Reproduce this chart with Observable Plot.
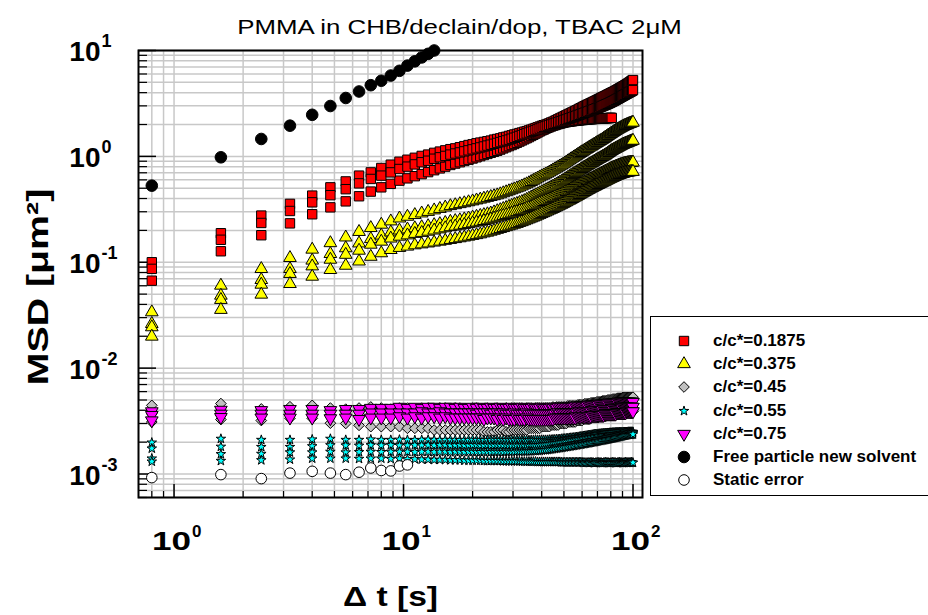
<!DOCTYPE html>
<html><head><meta charset="utf-8">
<script src="https://cdn.jsdelivr.net/npm/d3@7"></script>
<script src="https://cdn.jsdelivr.net/npm/@observablehq/plot@0.6"></script>
<style>
html,body{margin:0;padding:0;background:#fff;overflow:hidden;}
#wrap{position:relative;width:928px;height:615px;overflow:hidden;font-family:"Liberation Sans",Arial,sans-serif;}
#legend{position:absolute;left:650px;top:316px;width:300px;height:180px;border:1.5px solid #000;background:#fff;box-sizing:border-box;}
.lrow{position:absolute;left:0;height:20px;display:flex;align-items:center;font-weight:bold;font-size:17px;white-space:nowrap;}
.lrow svg{position:absolute;left:23px;top:0;}
.lrow span{position:absolute;left:62px;}
</style></head><body><div id="wrap"></div>
<script>
// lag times (s)
const lagTimes = [0.8,1.6,2.4,3.2,4,4.8,5.6,6.4,7.2,8,8.8,9.6,10.4,11.2,12,12.8,13.6,14.4,15.2,16,
 16.8,17.6,18.4,19.2,20,20.8,21.6,22.4,23.2,24,24.8,25.6,26.4,27.2,28,28.8,29.6,30.4,31.2,32,
 32.8,33.6,34.4,35.2,36,36.8,37.6,38.4,39.2,40,40.8,41.6,42.4,43.2,44,44.8,45.6,46.4,47.2,48,
 48.8,49.6,50.4,51.2,52,52.8,53.6,54.4,55.2,56,56.8,57.6,58.4,59.2,60,60.8,61.6,62.4,63.2,64,
 64.8,65.6,66.4,67.2,68,68.8,69.6,70.4,71.2,72,72.8,73.6,74.4,75.2,76,76.8,77.6,78.4,79.2,80,
 80.8,81.6,82.4,83.2,84,84.8,85.6,86.4,87.2,88,88.8,89.6,90.4,91.2,92,92.8,93.6,94.4,95.2,96,
 96.8,97.6,98.4,99.2,100];

// c/c* = 0.1875 (red squares)
const red1 = [.100,.188,.276,.356,.426,.51,.58,.658,.706,.777,.835,.89,.93,.97,1.01,1.04,1.08,1.11,1.14,1.17,
 1.19,1.22,1.25,1.28,1.30,1.33,1.35,1.37,1.39,1.41,1.44,1.46,1.48,1.51,1.53,1.56,1.58,1.61,1.63,1.66,
 1.68,1.71,1.73,1.76,1.79,1.82,1.85,1.88,1.91,1.94,1.97,1.99,2.02,2.05,2.09,2.12,2.16,2.20,2.24,2.28,
 2.32,2.36,2.40,2.44,2.48,2.52,2.56,2.60,2.64,2.68,2.72,2.76,2.81,2.85,2.89,2.94,2.98,3.02,3.06,3.10,
 3.14,3.18,3.22,3.26,3.30,3.34,3.38,3.43,3.47,3.51,3.56,3.60,3.64,3.68,3.72,3.76,3.81,3.85,3.89,3.94,
 3.98,4.02,4.06,4.10,4.15,4.20,4.25,4.30,4.35,4.40,4.45,4.50,4.55,4.60,4.65,4.70,4.76,4.81,4.87,4.93,
 4.99,5.05,5.12,5.19,5.26];
const red2 = [.0866,.163,.235,.305,.368,.43,.49,.556,.612,.658,.706,.76,.80,.84,.88,.91,.95,.98,1.01,1.04,
 1.065,1.09,1.115,1.14,1.165,1.19,1.215,1.24,1.265,1.29,1.315,1.34,1.365,1.39,1.415,1.44,1.47,1.50,1.53,1.56,
 1.59,1.62,1.65,1.68,1.71,1.74,1.77,1.80,1.835,1.87,1.90,1.92,1.95,1.98,2.00,2.03,2.05,2.08,2.10,2.13,
 2.15,2.18,2.21,2.23,2.26,2.29,2.31,2.34,2.37,2.39,2.42,2.45,2.47,2.50,2.53,2.55,2.58,2.61,2.63,2.66,
 2.69,2.71,2.74,2.77,2.79,2.82,2.85,2.87,2.90,2.93,2.96,2.99,3.02,3.05,3.08,3.11,3.14,3.17,3.20,3.24,
 3.27,3.31,3.34,3.38,3.42,3.46,3.50,3.54,3.58,3.62,3.66,3.70,3.74,3.78,3.82,3.86,3.90,3.94,3.98,4.02,
 4.06,4.10,4.14,4.18,4.23];
const red3 = [.067,.127,.18,.233,.284,.33,.376,.42,.465,.51,.55,.59,.62,.65,.68,.71,.74,.77,.80,.83,
 .855,.88,.905,.93,.955,.98,1.005,1.03,1.055,1.08,1.105,1.13,1.16,1.19,1.22,1.25,1.28,1.31,1.345,1.38,
 1.415,1.45,1.485,1.52,1.56,1.60,1.64,1.68,1.72,1.76,1.79,1.83,1.86,1.89,1.92,1.95,1.97,2.00,2.02,2.04,
 2.06,2.08,2.095,2.11,2.12,2.13,2.14,2.15,2.16,2.17,2.18,2.185,2.19,2.20,2.205,2.21,2.22,2.225,2.23,2.24,
 2.24,2.245,2.25,2.255,2.26,2.26,2.265,2.27,2.27,2.275,2.28,2.28,2.285,2.29,2.29,2.295,2.30,2.30,2.305,2.31,
 2.31];

// c/c* = 0.375 (yellow triangles)
const yel1 = [.0338,.0603,.0866,.110,.132,.152,.172,.194,.211,.227,.244,.26,.27,.28,.29,.30,.31,.32,.33,.34,
 .347,.355,.362,.37,.377,.385,.392,.40,.407,.415,.422,.43,.44,.45,.46,.47,.48,.49,.50,.51,
 .522,.535,.547,.56,.575,.59,.605,.62,.635,.65,.663,.676,.69,.706,.723,.74,.756,.773,.79,.806,
 .823,.84,.86,.88,.90,.92,.94,.96,.98,1.00,1.02,1.04,1.06,1.08,1.10,1.12,1.14,1.16,1.18,1.20,
 1.22,1.24,1.26,1.28,1.30,1.32,1.34,1.36,1.38,1.40,1.42,1.44,1.465,1.49,1.51,1.535,1.56,1.58,1.605,1.63,
 1.65,1.675,1.70,1.72,1.745,1.77,1.79,1.81,1.83,1.85,1.87,1.89,1.91,1.93,1.945,1.96,1.977,1.993,2.01,2.023,
 2.036,2.05,2.063,2.077,2.09];
const yel2 = [.0262,.0485,.0682,.0866,.104,.12,.136,.151,.166,.179,.192,.20,.205,.21,.215,.22,.225,.23,.236,.242,
 .246,.25,.255,.26,.265,.27,.275,.28,.285,.29,.297,.305,.312,.32,.327,.335,.342,.35,.357,.365,
 .372,.38,.39,.40,.41,.42,.43,.44,.45,.46,.47,.48,.49,.50,.51,.52,.532,.543,.555,.567,
 .578,.59,.603,.617,.63,.643,.657,.67,.683,.697,.71,.723,.737,.75,.763,.777,.79,.803,.817,.83,
 .843,.857,.87,.883,.897,.91,.923,.937,.95,.963,.977,.99,1.003,1.017,1.03,1.047,1.063,1.08,1.097,1.113,
 1.13,1.143,1.157,1.17,1.183,1.197,1.21,1.223,1.237,1.25,1.263,1.277,1.29,1.30,1.31,1.32,1.33,1.34,1.35,1.36,
 1.37,1.38,1.39,1.40,1.41];
const yel3 = [.0244,.0442,.0616,.0778,.0917,.106,.118,.129,.147,.157,.168,.175,.18,.186,.19,.195,.20,.205,.21,.215,
 .218,.222,.226,.23,.234,.238,.242,.246,.25,.255,.26,.265,.27,.275,.28,.285,.29,.295,.30,.305,
 .31,.315,.321,.327,.333,.34,.346,.353,.36,.366,.372,.379,.385,.392,.398,.405,.412,.418,.425,.432,
 .44,.447,.455,.462,.47,.478,.487,.495,.503,.512,.52,.528,.537,.545,.553,.562,.57,.578,.587,.595,
 .603,.612,.62,.628,.637,.645,.653,.662,.67,.678,.687,.695,.703,.712,.72,.728,.737,.745,.753,.762,
 .77,.777,.783,.79,.797,.803,.81,.817,.823,.83,.835,.84,.845,.849,.853,.857,.86,.864,.867,.869,
 .871,.873,.875,.877,.878];
const yel4 = [.0199,.0356,.0496,.0625,.0733,.0848,.093,.102,.113,.122,.131,.137,.141,.145,.148,.151,.154,.157,.16,.163,
 .166,.169,.172,.175,.178,.181,.184,.188,.191,.195,.199,.203,.207,.211,.215,.219,.223,.227,.231,.236,
 .24,.245,.25,.255,.26,.265,.27,.276,.281,.287,.292,.297,.303,.309,.314,.32,.326,.332,.338,.344,
 .35,.357,.363,.37,.377,.383,.39,.397,.404,.411,.418,.425,.433,.44,.447,.455,.462,.469,.477,.484,
 .491,.498,.505,.512,.518,.525,.532,.538,.545,.552,.558,.565,.572,.578,.585,.592,.598,.605,.612,.618,
 .625,.631,.637,.643,.649,.655,.66,.665,.67,.675,.68,.684,.688,.692,.696,.70,.703,.705,.708,.71,
 .712,.713,.714,.716,.717];

// c/c* = 0.45 (grey diamonds)
const grey1 = [.00445,.00463,.00412,.00432,.00445,.0042,.0041,.0042,.0043,.0042,.0041,.0042,.0042,.0041,.0042,.0042,.0041,.0042,.0042,.0041,
 .0042,.0042,.0041,.0041,.0042,.0042,.0041,.0041,.0042,.0041,.0041,.0042,.0041,.0041,.0042,.0041,.0042,.0042,.0041,.0042,
 .0042,.0041,.0042,.0042,.0042,.0041,.0042,.0042,.0042,.0042,.0042,.0042,.0042,.0042,.0042,.0043,.0042,.0043,.0043,.0043,
 .0043,.0043,.0043,.0043,.0044,.0044,.0044,.0044,.0044,.0044,.0044,.0045,.0045,.0045,.0045,.0045,.0046,.0046,.0046,.0046,
 .0046,.0047,.0047,.0047,.0047,.0047,.0048,.0048,.0048,.0048,.0048,.0049,.0049,.0049,.0049,.0049,.0050,.0050,.0050,.0050,
 .0050,.0051,.0051,.0051,.0051,.0051,.0052,.0052,.0052,.0052,.0052,.0052,.0053,.0053,.0053,.0053,.0053,.0053,.0053,.0053,
 .0053,.0053,.0053,.0053,.00532];
const grey2 = [.0037,.0036,.0037,.0038,.0038,.0036,.0036,.0035,.0036,.0036,.0035,.0036,.0036,.0035,.0035,.0036,.0035,.0035,.0036,.0035,
 .0035,.0035,.0035,.0035,.0035,.0035,.0034,.0035,.0035,.0034,.0035,.0034,.0034,.0035,.0034,.0035,.0034,.0034,.0034,.0035,
 .0034,.0034,.0034,.0035,.0034,.0034,.0034,.0034,.0034,.0034,.0034,.0034,.0034,.0034,.0034,.0035,.0035,.0035,.0035,.0035,
 .0035,.0035,.0035,.0035,.0035,.0035,.0036,.0036,.0036,.0036,.0036,.0036,.0036,.0036,.0037,.0037,.0037,.0037,.0037,.0037,
 .0037,.0038,.0038,.0038,.0038,.0038,.0038,.0038,.0039,.0039,.0039,.0039,.0039,.0039,.0040,.0040,.0040,.0040,.0040,.0040,
 .0040,.0041,.0041,.0041,.0041,.0041,.0041,.0041,.0041,.0042,.0042,.0042,.0042,.0042,.0042,.0042,.0042,.0042,.0042,.0042,
 .0042,.0042,.0042,.0042,.0042];
const grey3 = [.0031,.00327,.0032,.00336,.00336,.00302,.0030,.00288,.0028,.0028,.0028,.0028,.0027,.0027,.0027,.0027,.0026,.0026,.0026,.0026,
 .0026,.0026,.0026,.0026,.0026,.0026,.0026,.0025,.0025,.0025,.0025,.0026,.0026,.0026,.0025,.0025,.0026,.0026,.0026,.0026,
 .0026,.0026,.0026,.0027,.0027,.0027,.0027,.0027,.0027,.0028,.0028,.0028,.0028,.0028,.0029,.0029,.0029,.0029,.0029,.0030,
 .0030,.0030,.0030,.0030,.0031,.0031,.0031,.0031,.0031,.0031,.0032,.0032,.0032,.0032,.0032,.0033,.0033,.0033,.0033,.0033,
 .0033,.0034,.0034,.0034,.0034,.0034,.0034,.0034,.0035,.0035,.0035,.0035,.0035,.0035,.0035,.0036,.0036,.0036,.0036,.0036,
 .0036,.0036,.0037,.0037,.0037,.0037,.0037,.0037,.0038,.0038,.0038,.0038,.0038,.0038,.0038,.0038,.0039,.0039,.0039,.0039,
 .0039,.0039,.0039,.0039,.0039];

// c/c* = 0.55 (cyan stars)
const cyan1 = [.00198,.00215,.0021,.0021,.00212,.00215,.0021,.0021,.00212,.0021,.0021,.00211,.0021,.00209,.0021,.00211,.0021,.00209,.0021,.0021,
 .0021,.00209,.0021,.0021,.00211,.0021,.0021,.00209,.0021,.0021,.00211,.0021,.0021,.0021,.00209,.0021,.0021,.0021,.00211,.0021,
 .0021,.0021,.0021,.00209,.0021,.0021,.00211,.0021,.0021,.0021,.0021,.0021,.0021,.00211,.00211,.00212,.00212,.00213,.00213,.00214,
 .00215,.00216,.00216,.00217,.00218,.00219,.0022,.0022,.00221,.00222,.00223,.00224,.00225,.00226,.00227,.00228,.00229,.0023,.00231,.00232,
 .00233,.00234,.00235,.00236,.00237,.00238,.00238,.00239,.0024,.0024,.00241,.00241,.00242,.00242,.00243,.00243,.00244,.00244,.00245,.00245,
 .00245,.00246,.00246,.00246,.00247,.00247,.00247,.00247,.00248,.00248,.00248,.00248,.00248,.00249,.00249,.00249,.00249,.00249,.0025,.0025,
 .0025,.0025,.0025,.0025,.0025];
const cyan2 = [.00174,.00181,.0018,.0018,.00183,.00187,.00186,.00185,.00187,.00186,.00187,.00186,.00186,.00187,.00186,.00187,.00186,.00187,.00187,.00186,
 .00186,.00187,.00186,.00186,.00187,.00187,.00186,.00186,.00187,.00186,.00186,.00187,.00186,.00187,.00187,.00186,.00186,.00187,.00186,.00187,
 .00187,.00186,.00187,.00186,.00187,.00187,.00187,.00188,.00188,.00189,.0019,.0019,.00191,.00192,.00193,.00194,.00195,.00196,.00197,.00198,
 .002,.00201,.00202,.00203,.00205,.00206,.00207,.00209,.0021,.00211,.00212,.00213,.00214,.00215,.00216,.00217,.00218,.00219,.0022,.00221,
 .00222,.00223,.00224,.00225,.00226,.00227,.00228,.00228,.00229,.0023,.00231,.00231,.00232,.00233,.00233,.00234,.00234,.00235,.00236,.00236,
 .00237,.00237,.00238,.00238,.00239,.00239,.0024,.0024,.0024,.00241,.00241,.00242,.00242,.00242,.00243,.00243,.00243,.00244,.00244,.00244,
 .00244,.00245,.00245,.00245,.00245];
const cyan3 = [.0014,.00154,.00155,.0016,.0016,.00162,.0016,.00161,.00162,.00161,.00162,.00162,.00162,.00161,.00162,.00162,.00161,.00162,.00162,.00161,
 .00162,.00162,.00161,.00162,.00162,.00162,.00161,.00162,.00162,.00161,.00162,.00162,.00162,.00161,.00162,.00162,.00162,.00162,.00163,.00163,
 .00163,.00163,.00164,.00164,.00164,.00165,.00165,.00166,.00166,.00167,.00168,.00168,.00169,.0017,.00171,.00172,.00173,.00174,.00175,.00176,
 .00177,.00178,.00179,.0018,.00181,.00182,.00183,.00184,.00185,.00186,.00187,.00188,.00189,.0019,.00191,.00192,.00193,.00194,.00195,.00196,
 .00197,.00198,.00199,.002,.00201,.00202,.00203,.00204,.00205,.00206,.00207,.00208,.00209,.0021,.00211,.00212,.00213,.00214,.00215,.00216,
 .00217,.00218,.00219,.0022,.00221,.00222,.00223,.00224,.00225,.00226,.00227,.00228,.00229,.0023,.00231,.00232,.00233,.00234,.00234,.00235,
 .00235,.00236,.00236,.00237,.00237];
const cyan4 = [.00131,.00133,.00135,.00137,.0014,.0014,.0014,.00139,.0014,.0014,.00139,.0014,.00138,.00138,.00137,.00137,.00136,.00136,.00136,.00135,
 .00135,.00135,.00134,.00134,.00134,.00134,.00134,.00133,.00133,.00133,.00133,.00133,.00133,.00132,.00132,.00132,.00132,.00132,.00132,.00132,
 .00131,.00131,.00131,.00131,.00131,.00131,.00131,.0013,.0013,.0013,.0013,.0013,.0013,.0013,.0013,.0013,.0013,.0013,.0013,.0013,
 .00129,.00129,.00129,.00129,.00129,.00129,.00129,.00129,.00129,.00129,.00129,.00129,.00129,.00129,.00129,.00128,.00128,.00128,.00128,.00128,
 .00128,.00129,.00128,.00128,.00127,.00128,.00128,.00129,.00128,.00128,.00128,.00127,.00128,.00128,.00129,.00128,.00128,.00128,.00127,.00128,
 .00128,.00129,.00128,.00128,.00128,.00127,.00128,.00128,.00129,.00128,.00128,.00128,.00127,.00128,.00128,.00129,.00128,.00128,.00128,.00128,
 .00128,.00128,.00129,.00128,.00128];

// c/c* = 0.75 (magenta down triangles)
const mag1 = [.0039,.00403,.0040,.0041,.0041,.0040,.0041,.0041,.0042,.0042,.0042,.0043,.0042,.0043,.0042,.0043,.0043,.0042,.0043,.0043,
 .0042,.0043,.0042,.0042,.0043,.0042,.0043,.0042,.0042,.0043,.0042,.0042,.0043,.0042,.0042,.0042,.0043,.0042,.0042,.0042,
 .0043,.0042,.0042,.0042,.0042,.0043,.0042,.0042,.0042,.0043,.0042,.0042,.0042,.0042,.0043,.0042,.0043,.0042,.0043,.0043,
 .0043,.0043,.0043,.0043,.0043,.0043,.0043,.0043,.0043,.0044,.0044,.0044,.0044,.0044,.0044,.0044,.0044,.0044,.0044,.0045,
 .0045,.0045,.0045,.0045,.0045,.0045,.0045,.0045,.0046,.0046,.0046,.0046,.0046,.0046,.0046,.0046,.0046,.0047,.0047,.0047,
 .0047,.0047,.0047,.0047,.0047,.0047,.0047,.0048,.0048,.0048,.0048,.0048,.0048,.0048,.0048,.0048,.0048,.0048,.0048,.0048,
 .0048,.0048,.0048,.0048,.00478];
const mag2 = [.0036,.0037,.0037,.0037,.0037,.0037,.0037,.0037,.0038,.0038,.0038,.0038,.0038,.0038,.0039,.0038,.0038,.0039,.0038,.0038,
 .0038,.0038,.0038,.0038,.0038,.0037,.0038,.0038,.0038,.0037,.0038,.0038,.0037,.0038,.0037,.0037,.0037,.0038,.0037,.0037,
 .0037,.0037,.0038,.0037,.0037,.0037,.0037,.0037,.0037,.0037,.0037,.0037,.0037,.0037,.0037,.0037,.0037,.0038,.0038,.0037,
 .0038,.0038,.0038,.0038,.0038,.0038,.0038,.0038,.0038,.0038,.0038,.0039,.0039,.0039,.0039,.0039,.0039,.0039,.0039,.0039,
 .0039,.0039,.0040,.0040,.0040,.0040,.0040,.0040,.0040,.0040,.0040,.0040,.0041,.0041,.0041,.0041,.0041,.0041,.0041,.0041,
 .0041,.0041,.0042,.0042,.0042,.0042,.0042,.0042,.0042,.0042,.0042,.0042,.0043,.0043,.0043,.0043,.0043,.0043,.0043,.0043,
 .0043,.0043,.0043,.0043,.0043];
const mag3 = [.0032,.00344,.0034,.0034,.0034,.00335,.0034,.0033,.0034,.0034,.0034,.0035,.0034,.0035,.0034,.0035,.0035,.0034,.0035,.0034,
 .0034,.0034,.0034,.0034,.0034,.0034,.0034,.0033,.0034,.0034,.0034,.0033,.0034,.0033,.0034,.0033,.0033,.0033,.0034,.0033,
 .0033,.0033,.0034,.0033,.0033,.0033,.0033,.0033,.0033,.0033,.0033,.0033,.0033,.0033,.0033,.0033,.0034,.0034,.0034,.0034,
 .0034,.0034,.0034,.0034,.0034,.0034,.0034,.0034,.0034,.0034,.0035,.0035,.0035,.0035,.0035,.0035,.0035,.0035,.0035,.0035,
 .0035,.0035,.0036,.0036,.0036,.0036,.0036,.0036,.0036,.0036,.0036,.0036,.0036,.0037,.0037,.0037,.0037,.0037,.0037,.0037,
 .0037,.0037,.0037,.0037,.0037,.0038,.0038,.0038,.0038,.0038,.0038,.0038,.0038,.0038,.0038,.0038,.0039,.0039,.0039,.0039,
 .0039,.0039,.0039,.0039,.0039];

// free particle, new solvent (black circles)
const freeParticle = [.529,.98,1.46,1.95,2.47,2.99,3.56,4.1,4.7,5.18,5.8,6.43,7.2,7.9,8.6,9.3,10.0];
// static error (open circles)
const staticError = [.000925,.000987,.000905,.00102,.00106,.00102,.000987,.00104,.00114,.00108,.00107,.00119,.00122];

// axis ticks
const xMajor = [1, 10, 100];
const xExp = ["0", "1", "2"];
const xMinor = [0.8,0.9,2,3,4,5,6,7,8,9,20,30,40,50,60,70,80,90];
const yMajor = [10, 1, 0.1, 0.01, 0.001];
const yExp = ["1", "0", "-1", "-2", "-3"];
const yMinor = [0.0006,0.0007,0.0008,0.0009,0.002,0.003,0.004,0.005,0.006,0.007,0.008,0.009,
 0.02,0.03,0.04,0.05,0.06,0.07,0.08,0.09,0.2,0.3,0.4,0.5,0.6,0.7,0.8,0.9,2,3,4,5,6,7,8,9];

const titleText = "PMMA in CHB/declain/dop, TBAC 2\u03bcM";
const xLabel = "\u0394 t [s]";
const yLabel = "MSD [\u03bcm\u00b2]";
const legendLabels = ["c/c*=0.1875","c/c*=0.375","c/c*=0.45","c/c*=0.55","c/c*=0.75","Free particle new solvent","Static error"];

function rows(values) {
  return values.map((v, i) => ({t: lagTimes[i], msd: v})).filter(d => d.msd != null);
}

const triangleDown = {
  draw(context, size) {
    const y = -Math.sqrt(size / (Math.sqrt(3) * 3));
    context.moveTo(0, -y * 2);
    context.lineTo(-Math.sqrt(3) * y, y);
    context.lineTo(Math.sqrt(3) * y, y);
    context.closePath();
  }
};

const styles = [
  {series: [red3, red1, red2], symbol: "square", fill: "#ff0000", r: 5.3},
  {series: [yel1, yel2, yel3, yel4], symbol: "triangle", fill: "#ffff00", r: 4.7},
  {series: [grey1, grey2, grey3], symbol: "diamond2", fill: "#c0c0c0", r: 4.8},
  {series: [cyan1, cyan2, cyan3, cyan4], symbol: "star", fill: "#00ffff", r: 3.0},
  {series: [mag1, mag2, mag3], symbol: triangleDown, fill: "#ff00ff", r: 4.7},
  {series: [freeParticle], symbol: "circle", fill: "#000000", r: 5.8},
  {series: [staticError], symbol: "circle", fill: "#ffffff", r: 5.3}
];

const PW = 928 - 138 - 286, PH = 615 - 50 - 118;
const bold = {fontWeight: "bold", fill: "black", lineAnchor: "middle"};

const dotMarks = [];
for (const s of styles) for (const arr of s.series) {
  dotMarks.push(Plot.dot(rows(arr), {x: "t", y: "msd", symbol: s.symbol, r: s.r, fill: s.fill, stroke: "black", strokeWidth: 1}));
}

const chart = Plot.plot({
  width: 928, height: 615,
  marginLeft: 138, marginRight: 286, marginTop: 50, marginBottom: 118,
  x: {type: "log", domain: [0.7, 110], axis: null},
  y: {type: "log", domain: [0.0006, 10], axis: null},
  style: {fontFamily: "'Liberation Sans', Arial, sans-serif", background: "white", overflow: "visible"},
  marks: [
    Plot.ruleX([...xMinor, ...xMajor], {x: d => d, stroke: "#c8c8c8", strokeWidth: 1.5}),
    Plot.ruleY([...yMinor, ...yMajor], {y: d => d, stroke: "#c8c8c8", strokeWidth: 1.5}),
    Plot.tickX(xMinor, {x: d => d, stroke: "black", strokeWidth: 1.2, insetTop: PH - 6}),
    Plot.tickX(xMajor, {x: d => d, stroke: "black", strokeWidth: 1.5, insetTop: PH - 13}),
    Plot.tickY(yMinor, {y: d => d, stroke: "black", strokeWidth: 1.2, insetRight: PW - 9}),
    Plot.tickY(yMajor, {y: d => d, stroke: "black", strokeWidth: 1.5, insetRight: PW - 18}),
    ...dotMarks,
    Plot.frame({stroke: "black", strokeWidth: 2}),
    // text marks (order matters for the stretch step below)
    Plot.text(xMajor, {x: d => d, frameAnchor: "bottom", text: () => "10", dy: 44, dx: 17, textAnchor: "end", fontSize: 26, ...bold}),
    Plot.text(xMajor, {x: d => d, frameAnchor: "bottom", text: (d, i) => xExp[i], dy: 34, dx: 18, textAnchor: "start", fontSize: 17, ...bold}),
    Plot.text(yMajor, {y: d => d, frameAnchor: "left", text: () => "10", dy: 2, dx: -38, textAnchor: "end", fontSize: 28, ...bold}),
    Plot.text(yMajor, {y: d => d, frameAnchor: "left", text: (d, i) => yExp[i], dy: -9, dx: -37, textAnchor: "start", fontSize: 18, ...bold}),
    Plot.text([titleText], {text: d => d, frameAnchor: "top", dy: -23, dx: 69, fontSize: 21, fill: "black", lineAnchor: "middle", textAnchor: "middle"}),
    Plot.text([xLabel], {text: d => d, frameAnchor: "bottom", dy: 100, textAnchor: "middle", fontSize: 28, ...bold}),
    Plot.text([yLabel], {text: d => d, frameAnchor: "left", dx: -100, dy: 13, rotate: -90, textAnchor: "middle", fontSize: 30, ...bold})
  ]
});

// the reference's lettering is horizontally widened
const textGroups = d3.select(chart).selectAll('g[aria-label="text"]').nodes();
function stretch(k, sx) {
  d3.select(textGroups[k]).selectAll("text").attr("transform", function () {
    return (this.getAttribute("transform") || "") + ` scale(${sx},1)`;
  });
}
stretch(0, 1.35); // x tick "10"
stretch(4, 1.23); // title
stretch(5, 1.2);  // x label
stretch(6, 1.31); // y label

const wrap = document.getElementById("wrap");
wrap.appendChild(chart);

// legend
const legend = document.createElement("div");
legend.id = "legend";
wrap.appendChild(legend);
const symbolTypes = {square: d3.symbolSquare, triangle: d3.symbolTriangle, diamond2: d3.symbolDiamond2, star: d3.symbolStar, circle: d3.symbolCircle};
const legendOrder = [0, 1, 2, 3, 4, 5, 6];
legendOrder.forEach((k, i) => {
  const s = styles[k];
  const row = document.createElement("div");
  row.className = "lrow";
  row.style.top = (14 + i * 23.2) + "px";
  const svg = d3.create("svg").attr("width", 20).attr("height", 20);
  const type = typeof s.symbol === "string" ? symbolTypes[s.symbol] : s.symbol;
  svg.append("path").attr("transform", "translate(10,10)")
    .attr("d", d3.symbol(type, Math.PI * s.r * s.r)())
    .attr("fill", s.fill).attr("stroke", "black").attr("stroke-width", 1);
  row.appendChild(svg.node());
  const span = document.createElement("span");
  span.textContent = legendLabels[i];
  row.appendChild(span);
  legend.appendChild(row);
});
</script>
</body></html>
